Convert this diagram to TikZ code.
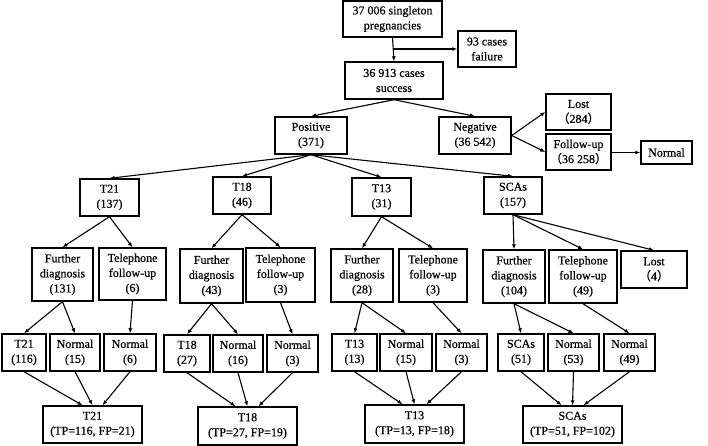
\documentclass[tikz,border=0pt]{standalone}
\usepackage{fontspec}
\setmainfont{Liberation Serif}[FakeBold=0.6]
\newfontfamily\cjk{Noto Sans CJK SC}[FakeBold=0.6]
\usetikzlibrary{arrows.meta}
\newcommand{\fl}{{\cjk （}}
\newcommand{\fr}{{\cjk ）}}
\begin{document}
\begin{tikzpicture}[x=1pt,y=-1pt,
  box/.style={draw,line width=1.4pt,inner sep=0pt,align=center,
    font=\fontsize{12}{15}\selectfont},
  arr/.style={line width=1.1pt,-{Latex[length=5pt,width=4pt]}}]
\useasboundingbox (0,0) rectangle (708,446);
\newcommand{\bx}[6]{\node[box,minimum width=#4,minimum height=#5] (#1) at (#2,#3) {#6};}
% top
\bx{top}{392.5}{19}{99pt}{36pt}{37 006 singleton\\pregnancies}
\bx{fail}{487}{49}{58pt}{36pt}{93 cases\\failure}
\bx{succ}{394}{80.5}{98pt}{37pt}{36 913 cases\\success}
\bx{pos}{311}{135.5}{72pt}{37pt}{Positive\\(371)}
\bx{neg}{475}{135.5}{72pt}{37pt}{Negative\\(36 542)}
\bx{lost}{578.5}{112}{65pt}{36pt}{Lost\\\fl284\fr}
\bx{fup}{578.5}{152}{65pt}{36pt}{Follow-up\\\fl36 258\fr}
\bx{norm}{666.5}{152.5}{51pt}{23pt}{Normal}
% level 2
\bx{t21}{109.5}{197.5}{59pt}{37pt}{T21\\(137)}
\bx{t18}{242}{195.5}{58pt}{37pt}{T18\\(46)}
\bx{t13}{381.5}{197}{59pt}{38pt}{T13\\(31)}
\bx{scas}{513}{195.5}{58pt}{37pt}{SCAs\\(157)}
% level 3
\bx{fd21}{62.5}{274.5}{61pt}{53pt}{Further\\diagnosis\\(131)}
\bx{tf21}{132.5}{274}{67pt}{52pt}{Telephone\\follow-up\\(6)}
\bx{fd18}{211.5}{276}{63pt}{54pt}{Further\\diagnosis\\(43)}
\bx{tf18}{280.5}{275}{69pt}{54pt}{Telephone\\follow-up\\(3)}
\bx{fd13}{362}{275.5}{62pt}{53pt}{Further\\diagnosis\\(28)}
\bx{tf13}{433}{275.5}{68pt}{53pt}{Telephone\\follow-up\\(3)}
\bx{fdS}{514}{276.5}{62pt}{53pt}{Further\\diagnosis\\(104)}
\bx{tfS}{583}{276.5}{68pt}{53pt}{Telephone\\follow-up\\(49)}
\bx{lostS}{654}{269.5}{66pt}{37pt}{Lost\\\fl4\fr}
% level 4
\bx{a21}{24}{352.5}{44pt}{37pt}{T21\\(116)}
\bx{n15a}{75}{352.5}{50pt}{37pt}{Normal\\(15)}
\bx{n6}{130}{352.5}{52pt}{37pt}{Normal\\(6)}
\bx{a18}{187}{353.5}{46pt}{37pt}{T18\\(27)}
\bx{n16}{238}{353.5}{50pt}{37pt}{Normal\\(16)}
\bx{n3a}{292.5}{353.5}{51pt}{37pt}{Normal\\(3)}
\bx{a13}{354.5}{352.5}{45pt}{37pt}{T13\\(13)}
\bx{n15b}{406}{352.5}{52pt}{37pt}{Normal\\(15)}
\bx{n3b}{461.5}{352.5}{51pt}{37pt}{Normal\\(3)}
\bx{aS}{521}{352.5}{46pt}{37pt}{SCAs\\(51)}
\bx{n53}{573.5}{352.5}{51pt}{37pt}{Normal\\(53)}
\bx{n49}{629.5}{352.5}{51pt}{37pt}{Normal\\(49)}
% bottom
\bx{b21}{92.5}{424.5}{99pt}{37pt}{T21\\(TP=116, FP=21)}
\bx{b18}{247.5}{426}{99pt}{38pt}{T18\\(TP=27, FP=19)}
\bx{b13}{414.5}{424}{99pt}{38pt}{T13\\(TP=13, FP=18)}
\bx{bS}{572.5}{424.5}{99pt}{37pt}{SCAs\\(TP=51, FP=102)}
% connectors top
\draw[arr] (top.south) -- (succ.north);
\draw[arr] (top.south|-fail.west) -- (fail.west);
\draw[arr] (succ.south) -- (pos.north);
\draw[arr] (succ.south) -- (neg.north);
\draw[arr] (neg.east) -- (lost.west);
\draw[arr] (neg.east) -- (fup.west);
\draw[arr] (fup.east|-norm.west) -- (norm.west);
% positive to types
\foreach \t in {t21,t18,t13,scas} \draw[arr] (pos.south) -- (\t.north);
% types to level 3
\draw[arr] (t21.south) -- (fd21.north);
\draw[arr] (t21.south) -- (tf21.north);
\draw[arr] (t18.south) -- (fd18.north);
\draw[arr] (t18.south) -- (tf18.north);
\draw[arr] (t13.south) -- (fd13.north);
\draw[arr] (t13.south) -- (tf13.north);
\draw[arr] (scas.south) -- (fdS.north);
\draw[arr] (scas.south) -- (tfS.north);
\draw[arr] (scas.south) -- (lostS.north);
% level 3 to level 4
\draw[arr] (fd21.south) -- (a21.north);
\draw[arr] (fd21.south) -- (n15a.north);
\draw[arr] (tf21.south) -- (n6.north);
\draw[arr] (fd18.south) -- (a18.north);
\draw[arr] (fd18.south) -- (n16.north);
\draw[arr] (tf18.south) -- (n3a.north);
\draw[arr] (fd13.south) -- (a13.north);
\draw[arr] (fd13.south) -- (n15b.north);
\draw[arr] (tf13.south) -- (n3b.north);
\draw[arr] (fdS.south) -- (aS.north);
\draw[arr] (fdS.south) -- (n53.north);
\draw[arr] (tfS.south) -- (n49.north);
% level 4 to bottom
\draw[arr] (a21.south) -- ([xshift=-10pt]b21.north);
\draw[arr] (n15a.south) -- (b21.north);
\draw[arr] (n6.south) -- ([xshift=10pt]b21.north);
\draw[arr] (a18.south) -- ([xshift=-12pt]b18.north);
\draw[arr] (n16.south) -- (b18.north);
\draw[arr] (n3a.south) -- ([xshift=11pt]b18.north);
\draw[arr] (a13.south) -- ([xshift=-12pt]b13.north);
\draw[arr] (n15b.south) -- (b13.north);
\draw[arr] (n3b.south) -- ([xshift=12pt]b13.north);
\draw[arr] (aS.south) -- ([xshift=-11pt]bS.north);
\draw[arr] (n53.south) -- (bS.north);
\draw[arr] (n49.south) -- ([xshift=11pt]bS.north);
\end{tikzpicture}
\end{document}
